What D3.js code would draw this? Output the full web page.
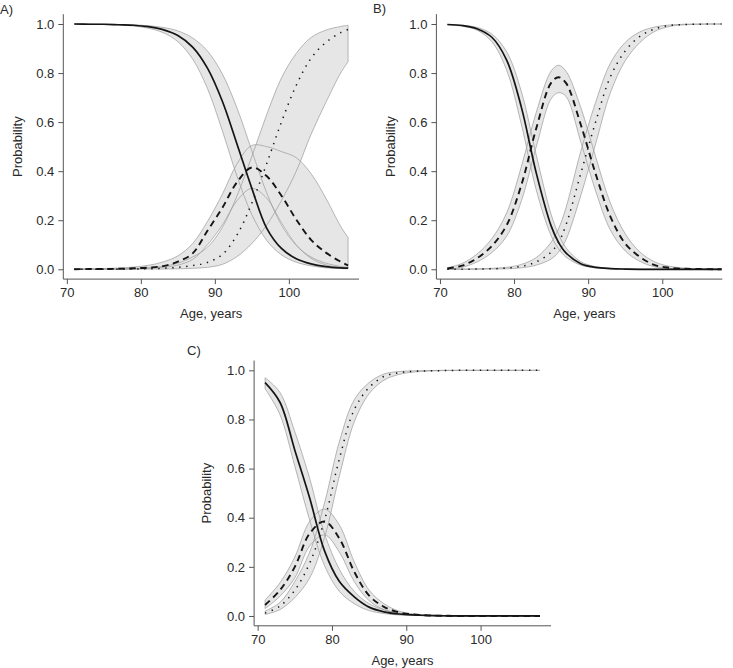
<!DOCTYPE html>
<html><head><meta charset="utf-8">
<script src="https://cdn.jsdelivr.net/npm/d3@7"></script>
<style>
body{margin:0;background:#fff}
svg{display:block}
text{font-family:"Liberation Sans",Arial,Helvetica,sans-serif;fill:#2a2a2a}
</style>
</head><body>
<svg id="chart" width="733" height="668"></svg>
<script>
// ---------- data ----------
const agesA = [71,73,75,77,79,81,83,85,87,89,91,93,95,97,99,101,103,105,107,108];
const agesB = [71,73,75,77,79,81,83,85,86,87,89,91,93,95,97,99,101,103,105,107,108];
const agesC = [71,73,75,77,79,81,83,85,87,89,91,93,95,97,99,101,103,105,107,108];
const xTicks = [70,80,90,100];
const yTicks = [0,0.2,0.4,0.6,0.8,1.0];
const panelLabels = ["A)","B)","C)"];
const xLabel = "Age, years";
const yLabel = "Probability";

// Panel A
const aSolid   = [1.000,0.999,0.999,0.997,0.995,0.989,0.977,0.953,0.906,0.820,0.686,0.510,0.330,0.168,0.085,0.043,0.022,0.011,0.006,0.005];
const aSolidLo = [1.000,0.999,0.998,0.996,0.992,0.983,0.965,0.928,0.857,0.737,0.566,0.379,0.223,0.118,0.059,0.029,0.014,0.006,0.003,0.002];
const aSolidHi = [1.000,1.000,0.999,0.998,0.997,0.993,0.986,0.972,0.943,0.890,0.797,0.657,0.483,0.312,0.181,0.097,0.050,0.025,0.012,0.009];
const aDash    = [0.000,0.001,0.001,0.002,0.004,0.007,0.013,0.031,0.065,0.157,0.250,0.355,0.415,0.380,0.300,0.203,0.120,0.068,0.031,0.016];
const aDashLo  = [0.000,0.000,0.001,0.001,0.002,0.004,0.008,0.017,0.040,0.100,0.180,0.280,0.330,0.290,0.190,0.100,0.045,0.018,0.007,0.004];
const aDashHi  = [0.001,0.002,0.003,0.005,0.009,0.016,0.030,0.055,0.105,0.195,0.305,0.430,0.505,0.500,0.480,0.455,0.390,0.290,0.175,0.130];
const aDot     = [0.000,0.000,0.000,0.000,0.001,0.002,0.004,0.008,0.015,0.028,0.060,0.140,0.270,0.430,0.600,0.750,0.860,0.925,0.965,0.978];
const aDotLo   = [0.000,0.000,0.000,0.000,0.000,0.001,0.001,0.002,0.004,0.008,0.020,0.052,0.105,0.180,0.280,0.400,0.550,0.680,0.800,0.846];
const aDotHi   = [0.000,0.001,0.001,0.002,0.003,0.006,0.012,0.025,0.050,0.090,0.170,0.300,0.460,0.630,0.780,0.880,0.945,0.975,0.990,0.995];

// Panel B
const bSolid   = [0.998,0.994,0.981,0.946,0.853,0.659,0.392,0.177,0.110,0.067,0.023,0.008,0.003,0.001,0.000,0.000,0.000,0.000,0.000,0.000,0.000];
const bSolidLo = [0.997,0.991,0.975,0.928,0.812,0.589,0.323,0.137,0.084,0.050,0.017,0.006,0.002,0.001,0.000,0.000,0.000,0.000,0.000,0.000,0.000];
const bSolidHi = [0.998,0.995,0.986,0.959,0.887,0.723,0.465,0.224,0.143,0.088,0.031,0.011,0.004,0.001,0.000,0.000,0.000,0.000,0.000,0.000,0.000];
const bDash    = [0.003,0.015,0.045,0.095,0.180,0.345,0.575,0.760,0.783,0.760,0.590,0.390,0.215,0.105,0.050,0.017,0.006,0.002,0.001,0.000,0.000];
const bDashLo  = [0.001,0.008,0.030,0.068,0.135,0.280,0.500,0.695,0.720,0.705,0.520,0.320,0.160,0.075,0.032,0.010,0.003,0.001,0.000,0.000,0.000];
const bDashHi  = [0.006,0.024,0.062,0.125,0.230,0.420,0.640,0.808,0.832,0.808,0.660,0.460,0.270,0.145,0.070,0.030,0.012,0.005,0.002,0.001,0.000];
const bDot     = [0.000,0.000,0.001,0.002,0.005,0.012,0.030,0.070,0.110,0.180,0.390,0.600,0.785,0.890,0.950,0.980,0.994,0.998,0.999,1.000,1.000];
const bDotLo   = [0.000,0.000,0.000,0.001,0.002,0.006,0.017,0.042,0.070,0.120,0.300,0.510,0.720,0.850,0.925,0.970,0.990,0.997,0.999,1.000,1.000];
const bDotHi   = [0.001,0.001,0.002,0.004,0.008,0.020,0.048,0.110,0.165,0.250,0.480,0.680,0.840,0.925,0.968,0.988,0.996,0.999,1.000,1.000,1.000];

// Panel C
const cSolid   = [0.950,0.870,0.675,0.480,0.265,0.140,0.078,0.036,0.017,0.008,0.004,0.002,0.001,0.000,0.000,0.000,0.000,0.000,0.000,0.000];
const cSolidLo = [0.925,0.820,0.610,0.390,0.205,0.100,0.050,0.022,0.010,0.004,0.002,0.001,0.000,0.000,0.000,0.000,0.000,0.000,0.000,0.000];
const cSolidHi = [0.970,0.910,0.750,0.560,0.335,0.190,0.100,0.050,0.025,0.012,0.006,0.003,0.001,0.000,0.000,0.000,0.000,0.000,0.000,0.000];
const cDash    = [0.045,0.105,0.200,0.336,0.385,0.315,0.180,0.083,0.037,0.015,0.006,0.002,0.001,0.000,0.000,0.000,0.000,0.000,0.000,0.000];
const cDashLo  = [0.030,0.080,0.155,0.285,0.330,0.260,0.140,0.062,0.026,0.010,0.004,0.001,0.000,0.000,0.000,0.000,0.000,0.000,0.000,0.000];
const cDashHi  = [0.065,0.135,0.240,0.385,0.435,0.370,0.220,0.105,0.050,0.020,0.008,0.003,0.001,0.000,0.000,0.000,0.000,0.000,0.000,0.000];
const cDot     = [0.012,0.040,0.105,0.215,0.390,0.640,0.840,0.930,0.975,0.990,0.996,0.998,0.999,1.000,1.000,1.000,1.000,1.000,1.000,1.000];
const cDotLo   = [0.006,0.026,0.075,0.155,0.320,0.570,0.790,0.905,0.960,0.983,0.993,0.997,0.999,1.000,1.000,1.000,1.000,1.000,1.000,1.000];
const cDotHi   = [0.020,0.055,0.140,0.260,0.460,0.710,0.880,0.950,0.985,0.995,0.998,0.999,1.000,1.000,1.000,1.000,1.000,1.000,1.000,1.000];

// ---------- layout / styles ----------
const xDomain = [69.52, 109.48];
const yDomain = [-0.04, 1.04];
const panels = [
  {label: panelLabels[0], ages: agesA, lx: 0,   ly: 14,  xr: [63.3, 359],   yr: [279.1, 14.2], xEnd: 109.48, ylabX: 22,  xlabY: 317.5,
   series: [[aSolid,aSolidLo,aSolidHi],[aDash,aDashLo,aDashHi],[aDot,aDotLo,aDotHi]]},
  {label: panelLabels[1], ages: agesB, lx: 373, ly: 13,  xr: [436.4, 732.5], yr: [279.1, 14.2], xEnd: 108.1, ylabX: 395, xlabY: 317.5,
   series: [[bSolid,bSolidLo,bSolidHi],[bDash,bDashLo,bDashHi],[bDot,bDotLo,bDotHi]]},
  {label: panelLabels[2], ages: agesC, lx: 187, ly: 355, xr: [254.1, 551],   yr: [625.8, 360.5], xEnd: 109.48, ylabX: 211, xlabY: 664.5,
   series: [[cSolid,cSolidLo,cSolidHi],[cDash,cDashLo,cDashHi],[cDot,cDotLo,cDotHi]]}
];
const lineStyles = [
  {dash: null,      width: 1.7},
  {dash: "6.5,4.5", width: 1.9},
  {dash: "1.4,5.6", width: 1.5}
];
const bandFill = "#e6e6e6", bandStroke = "#9a9a9a", axisColor = "#555", lineColor = "#151515";
const fontSize = 13;

const svg = d3.select("#chart");
const curve = d3.curveCatmullRom.alpha(0.5);

panels.forEach(p => {
  const x = d3.scaleLinear().domain(xDomain).range(p.xr);
  const y = d3.scaleLinear().domain(yDomain).range(p.yr);
  const g = svg.append("g");

  const rows = p.series.map(s => p.ages.map((a, i) => ({age: a, v: s[0][i], lo: s[1][i], hi: s[2][i]})));
  const area = d3.area().x(d => x(d.age)).y0(d => y(d.lo)).y1(d => y(d.hi)).curve(curve);
  const line = d3.line().x(d => x(d.age)).y(d => y(d.v)).curve(curve);

  rows.forEach(r => g.append("path").attr("d", area(r)).attr("fill", bandFill).attr("stroke", "none"));
  rows.forEach(r => g.append("path").attr("d", area(r) + "Z").attr("fill", "none")
    .attr("stroke", bandStroke).attr("stroke-width", 0.7));
  rows.forEach((r, k) => g.append("path").attr("d", line(r)).attr("fill", "none")
    .attr("stroke", lineColor).attr("stroke-width", lineStyles[k].width)
    .attr("stroke-dasharray", lineStyles[k].dash));

  const yAxis = d3.axisLeft(y).tickValues(yTicks).tickFormat(d3.format(".1f")).tickSize(5).tickPadding(4).tickSizeOuter(0);
  const xAxis = d3.axisBottom(x).tickValues(xTicks).tickFormat(d3.format("d")).tickSize(5).tickPadding(4).tickSizeOuter(0);
  const gy = g.append("g").attr("transform", `translate(${p.xr[0]},0)`).call(yAxis);
  const gx = g.append("g").attr("transform", `translate(0,${p.yr[0]})`).call(xAxis);
  [gx, gy].forEach(ax => {
    ax.select(".domain").remove();
    ax.selectAll(".tick line").attr("stroke", axisColor).attr("stroke-width", 1);
    ax.selectAll(".tick text").attr("font-size", fontSize).attr("fill", "#2a2a2a")
      .attr("font-family", '"Liberation Sans", Arial, sans-serif');
  });
  g.append("line").attr("x1", p.xr[0]).attr("x2", p.xr[0]).attr("y1", p.yr[1]).attr("y2", p.yr[0])
    .attr("stroke", axisColor).attr("stroke-width", 1);
  g.append("line").attr("x1", p.xr[0]).attr("x2", x(p.xEnd)).attr("y1", p.yr[0]).attr("y2", p.yr[0])
    .attr("stroke", axisColor).attr("stroke-width", 1);

  g.append("text").attr("x", (p.xr[0] + p.xr[1]) / 2).attr("y", p.xlabY)
    .attr("text-anchor", "middle").attr("font-size", fontSize).text(xLabel);
  g.append("text").attr("transform", `translate(${p.ylabX},${(p.yr[0] + p.yr[1]) / 2}) rotate(-90)`)
    .attr("text-anchor", "middle").attr("font-size", fontSize).text(yLabel);
  g.append("text").attr("x", p.lx).attr("y", p.ly).attr("font-size", fontSize).text(p.label);
});
</script>
</body></html>
